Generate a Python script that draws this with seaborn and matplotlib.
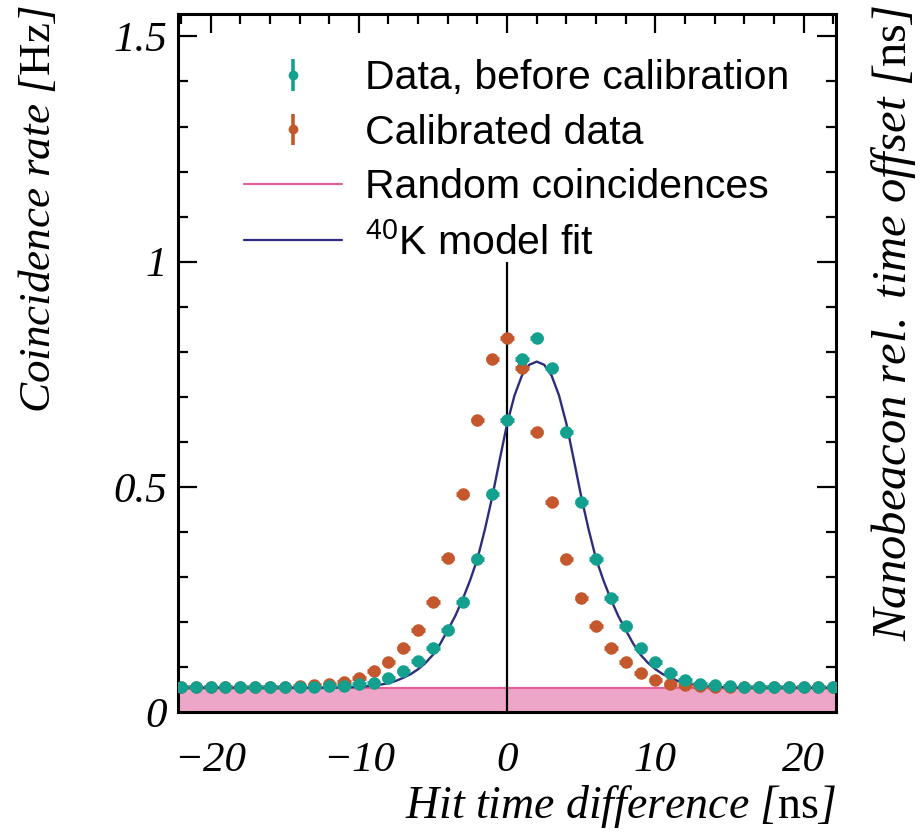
import numpy as np
import matplotlib
matplotlib.use('Agg')
import matplotlib.pyplot as plt
from matplotlib.legend_handler import HandlerErrorbar
import seaborn as sns

sns.set_style('ticks')
plt.rcParams['font.family'] = ['Liberation Serif', 'DejaVu Serif']
plt.rcParams['font.style'] = 'italic'
plt.rcParams['mathtext.fontset'] = 'custom'
plt.rcParams['mathtext.it'] = 'Liberation Serif:style=italic'
plt.rcParams['mathtext.rm'] = 'Liberation Serif:style=normal'
plt.rcParams['mathtext.default'] = 'regular'
plt.rcParams['axes.unicode_minus'] = True
for k in ['text.color', 'axes.labelcolor', 'xtick.color', 'ytick.color', 'axes.edgecolor']:
    plt.rcParams[k] = 'black'

TEAL = '#14a08e'
ORANGE = '#c4582c'
PINK_FILL = '#eea6c8'
PINK_LINE = '#e5609a'
NAVY = '#2e2d7d'

# ---- data ----
hit_dt = list(range(-22, 23))  # ns, bin centres

rate_before = [0.056, 0.056, 0.056, 0.056, 0.056, 0.056, 0.056, 0.056, 0.056, 0.056,
               0.057, 0.058, 0.062, 0.065, 0.075, 0.092, 0.113, 0.141, 0.182, 0.244,
               0.340, 0.483, 0.649, 0.784, 0.830, 0.764, 0.622, 0.466, 0.340, 0.253,
               0.190, 0.143, 0.110, 0.086, 0.071, 0.063, 0.059, 0.057, 0.056, 0.056,
               0.056, 0.056, 0.056, 0.056, 0.056]

rate_calib = [0.056, 0.056, 0.056, 0.056, 0.056, 0.056, 0.056, 0.056, 0.057, 0.059,
              0.062, 0.066, 0.075, 0.090, 0.112, 0.141, 0.182, 0.244, 0.341, 0.483,
              0.649, 0.784, 0.830, 0.764, 0.622, 0.466, 0.340, 0.253, 0.190, 0.143,
              0.110, 0.086, 0.071, 0.063, 0.059, 0.057, 0.056, 0.056, 0.056, 0.056,
              0.056, 0.056, 0.056, 0.056, 0.056]

rate_err = 0.008   # Hz, vertical error
bin_half = 0.45    # ns, horizontal error

fit_x = [-22, -12, -11.5, -11, -10.5, -10, -9.5, -9, -8.5, -8, -7.5, -7, -6.5, -6,
         -5.5, -5, -4.5, -4, -3.5, -3, -2.5, -2, -1.5, -1, -0.5, 0, 0.5, 1, 1.5, 2,
         2.5, 3, 3.5, 4, 4.5, 5, 5.5, 6, 6.5, 7, 7.5, 8, 8.5, 9, 9.5, 10, 10.5, 11,
         11.5, 12, 12.5, 13, 13.5, 14, 14.5, 15, 15.5, 16, 22]
fit_y = [0.054, 0.054, 0.054, 0.055, 0.055, 0.056, 0.057, 0.059, 0.061, 0.064, 0.069,
         0.076, 0.084, 0.095, 0.109, 0.127, 0.152, 0.182, 0.213, 0.250, 0.292, 0.340,
         0.405, 0.478, 0.560, 0.640, 0.703, 0.747, 0.771, 0.778, 0.771, 0.747, 0.703,
         0.640, 0.560, 0.478, 0.405, 0.340, 0.292, 0.250, 0.213, 0.182, 0.152, 0.127,
         0.109, 0.095, 0.084, 0.076, 0.069, 0.064, 0.061, 0.059, 0.057, 0.056, 0.055,
         0.055, 0.054, 0.054, 0.054]

random_rate = 0.054   # Hz
offset_line = [0, 1.0]  # vertical marker at 0 ns, drawn from 0 to 1

x_range = [-22.2, 22.2]
y_range = [0, 1.55]
y_ticks = [0, 0.5, 1, 1.5]
y_ticklabels = ['0', '0.5', '1', '1.5']
x_ticks = [-20, -10, 0, 10, 20]
x_ticklabels = ['\u221220', '\u221210', '0', '10', '20']

labels = ['Data, before calibration', 'Calibrated data',
          'Random coincidences', r'$^{40}$K model fit']

# ---- plot ----
fig = plt.figure(figsize=(9.22, 8.39), dpi=100)
ax = fig.add_axes([0.193, 0.1514, 0.714, 0.832])

ax.fill_between(x_range, 0, random_rate, color=PINK_FILL, lw=0, zorder=1)
sns.lineplot(x=x_range, y=[random_rate, random_rate], color=PINK_LINE, lw=1.6,
             ax=ax, zorder=2)
ax.vlines(0, offset_line[0], offset_line[1], color='black', lw=1.6, zorder=2)
sns.lineplot(x=fit_x, y=fit_y, color=NAVY, lw=1.7, ax=ax, zorder=3, sort=False)

ax.errorbar(hit_dt, rate_calib, yerr=rate_err, xerr=bin_half, fmt='o', ms=8,
            color=ORANGE, elinewidth=3.4, capsize=0, zorder=4)
ax.errorbar(hit_dt, rate_before, yerr=rate_err, xerr=bin_half, fmt='o', ms=8,
            color=TEAL, elinewidth=3.4, capsize=0, zorder=5)

ax.set_xlim(x_range)
ax.set_ylim(y_range)
ax.set_xticks(x_ticks)
ax.set_xticklabels(x_ticklabels)
ax.set_yticks(y_ticks)
ax.set_yticklabels(y_ticklabels)
ax.xaxis.set_minor_locator(matplotlib.ticker.MultipleLocator(2))
ax.yaxis.set_minor_locator(matplotlib.ticker.MultipleLocator(0.1))
ax.tick_params(which='both', direction='in', top=True, right=True, width=1.6,
               labelsize=31, color='black')
ax.tick_params(which='major', length=14)
ax.tick_params(which='minor', length=7)
ax.tick_params(axis='x', pad=21)
ax.tick_params(axis='y', pad=8)
for s in ax.spines.values():
    s.set_linewidth(2.2)

ax.set_xlabel(r'$\mathit{Hit\ time\ difference}\ [\mathrm{ns}]$', fontsize=33, loc='right')
ax.xaxis.set_label_coords(1.0, -0.102)
ax.set_ylabel(r'$\mathit{Coincidence\ rate}\ [\mathrm{Hz}]$', fontsize=32.5, loc='top')
ax.yaxis.set_label_coords(-0.18, 1.013)
ax.text(1.087, 1.013, r'$\mathit{Nanobeacon\ rel.\ time\ offset}\ [\mathrm{ns}]$',
        transform=ax.transAxes, rotation=90, ha='center', va='top', fontsize=35)

# legend proxies
h_before = ax.errorbar([np.nan], [np.nan], yerr=[0.1], fmt='o', ms=6, color=TEAL,
                       elinewidth=2.6, capsize=0)
h_calib = ax.errorbar([np.nan], [np.nan], yerr=[0.1], fmt='o', ms=6, color=ORANGE,
                      elinewidth=2.6, capsize=0)
h_rand = matplotlib.lines.Line2D([], [], color=PINK_LINE, lw=1.6)
h_fit = matplotlib.lines.Line2D([], [], color=NAVY, lw=1.6)
ax.legend([h_before, h_calib, h_rand, h_fit], labels, loc='upper left',
          bbox_to_anchor=(0.10, 0.935), frameon=False, borderpad=0, borderaxespad=0,
          handlelength=2.4, handletextpad=0.55, labelspacing=0.4,
          handler_map={type(h_before): HandlerErrorbar(yerr_size=0.38)},
          prop={'family': 'Liberation Sans', 'style': 'normal', 'size': 29.5})

fig.savefig('out.png', dpi=100)
